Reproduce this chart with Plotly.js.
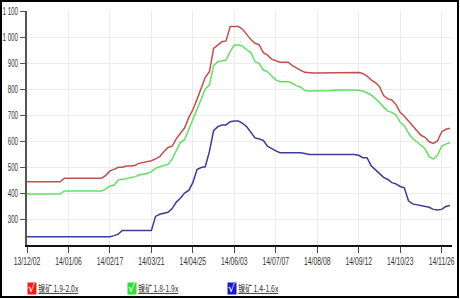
<!DOCTYPE html>
<html>
<head>
<meta charset="utf-8">
<script src="https://cdn.plot.ly/plotly-3.0.1.min.js"></script>
<style>
html,body{margin:0;padding:0;background:#fff;}
#wrap{position:relative;width:460px;height:299px;}
#chart{width:460px;height:299px;}
#frame{position:absolute;left:0;top:0;width:459px;height:298px;box-sizing:border-box;border:2px solid #000;pointer-events:none;}
</style>
</head>
<body>
<div id="wrap"><div id="chart"></div><div id="frame"></div></div>
<script>
// Category tick labels (one label every 10 points)
const tickLabels = ["13/12/02","14/01/06","14/02/17","14/03/21","14/04/25","14/06/03","14/07/07","14/08/08","14/09/12","14/10/23","14/11/26"];
const seriesNames = ["镍矿 1.9-2.0x","镍矿 1.8-1.9x","镍矿 1.4-1.6x"];

const red = [443,443,443,443,443,443,443,443,443,457,
457,457,457,457,457,457,457,457,457,468,
485,491,499,499,504,504,506,514,517,520,
524,531,540,559,575,580,608,630,650,690,
720,760,800,845,867,956,969,982,985,1040,
1040,1040,1030,1010,990,976,970,940,930,915,
908,903,903,903,890,880,872,864,862,862,
862,862,862,863,864,864,864,864,864,863,
863,860,850,835,825,810,775,762,758,740,
710,695,678,660,640,622,614,597,591,600,
635,645,649];

const green = [396,396,396,396,396,396,396,396,396,408,
408,408,408,408,408,408,408,408,408,415,
427,430,450,453,455,460,462,469,472,475,
482,495,501,505,510,530,560,595,605,645,
685,720,760,800,815,890,905,908,911,944,
969,969,965,950,940,905,899,873,867,850,
835,828,828,828,822,812,808,794,792,792,
792,792,793,794,795,796,796,796,796,796,
795,792,785,777,764,748,732,715,710,700,
672,660,630,610,597,583,570,540,531,545,
580,588,594];

const blue = [232,232,232,232,232,232,232,232,232,232,
232,232,232,232,232,232,232,232,232,232,
232,236,242,256,256,256,256,256,256,256,
256,310,318,322,326,340,365,380,400,410,
440,490,498,501,560,640,655,662,662,674,
677,677,668,655,635,612,608,602,580,570,
562,555,555,555,555,555,555,552,548,548,
548,548,548,548,548,548,548,548,548,548,
545,536,536,505,490,476,460,452,440,435,
425,420,370,358,355,350,348,345,337,335,
337,348,352];

const yTicks = [300,400,500,600,700,800,900,1000,1100];
const yTickText = ["300","400","500","600","700","800","900","1 000","1 100"];

const idx = red.map((_, i) => i);
const tickVals = tickLabels.map((_, i) => i * 10);

const lineColors = ["#c0504d","#66dd66","#3c3c9c"];
const boxColors = ["#ee1c1c","#33dd33","#1a1acc"];
const series = [red, green, blue];

const traces = series.map((s, k) => ({
  x: idx, y: s, type: "scatter", mode: "lines", name: seriesNames[k],
  line: {color: lineColors[k], width: 1.5}, hoverinfo: "x+y"
}));

const font = "'Liberation Sans',Arial,sans-serif";
const annotations = [];
seriesNames.forEach((n, k) => {
  annotations.push({
    xref: "paper", yref: "paper", x: (k * 100) / 425, y: -0.188,
    xanchor: "left", yanchor: "middle", showarrow: false,
    text: "√", font: {family: "DejaVu Sans", size: 11, color: "#ffffff"},
    bgcolor: boxColors[k], width: 8, height: 11, borderpad: 0
  });
  annotations.push({
    xref: "paper", yref: "paper", x: (k * 100 + 31.5) / 425, y: -0.188,
    xanchor: "center", yanchor: "middle", showarrow: false,
    text: '<span style="text-decoration:underline">' + n + '</span>',
    font: {family: "'Noto Sans CJK SC',sans-serif", size: 9, color: "#333"}
  });
});

const layout = {
  width: 460, height: 299,
  margin: {l: 27, r: 8, t: 11, b: 54},
  paper_bgcolor: "#fff", plot_bgcolor: "#fff",
  showlegend: false,
  font: {family: font, size: 10, color: "#333"},
  xaxis: {
    range: [0, 102.5], tickvals: tickVals, ticktext: tickLabels, tickangle: 0,
    ticklabeloverflow: "allow",
    showgrid: true, gridcolor: "#ececec", gridwidth: 1,
    showline: true, linecolor: "#111", linewidth: 2,
    ticks: "outside", ticklen: 6, tickcolor: "#444", tickwidth: 1,
    zeroline: false, tickfont: {family: font, size: 10, color: "#333"}
  },
  yaxis: {
    range: [200, 1100], tickvals: yTicks, ticktext: yTickText, tickangle: 0,
    ticklabeloverflow: "allow",
    showgrid: true, gridcolor: "#ececec", gridwidth: 1,
    showline: true, linecolor: "#555", linewidth: 2,
    ticks: "outside", ticklen: 5, tickcolor: "#555", tickwidth: 1,
    zeroline: false, tickfont: {family: font, size: 10, color: "#333"}
  },
  annotations: annotations
};

Plotly.newPlot("chart", traces, layout, {displayModeBar: false, staticPlot: true}).then(gd => {
  // condense tick labels horizontally (reference uses a narrow face)
  gd.querySelectorAll(".xtick text").forEach(t => {
    const L = t.getComputedTextLength();
    t.setAttribute("textLength", (L * 0.68).toFixed(1));
    t.setAttribute("lengthAdjust", "spacingAndGlyphs");
  });
  gd.querySelectorAll(".ytick text").forEach(t => {
    const L = t.getComputedTextLength();
    t.setAttribute("textLength", (L * 0.62).toFixed(1));
    t.setAttribute("lengthAdjust", "spacingAndGlyphs");
  });
  gd.querySelectorAll(".annotation-text").forEach(t => {
    if (t.textContent.indexOf("镍") >= 0) {
      t.setAttribute("textLength", "40");
      t.setAttribute("lengthAdjust", "spacingAndGlyphs");
    }
  });
});
</script>
</body>
</html>
